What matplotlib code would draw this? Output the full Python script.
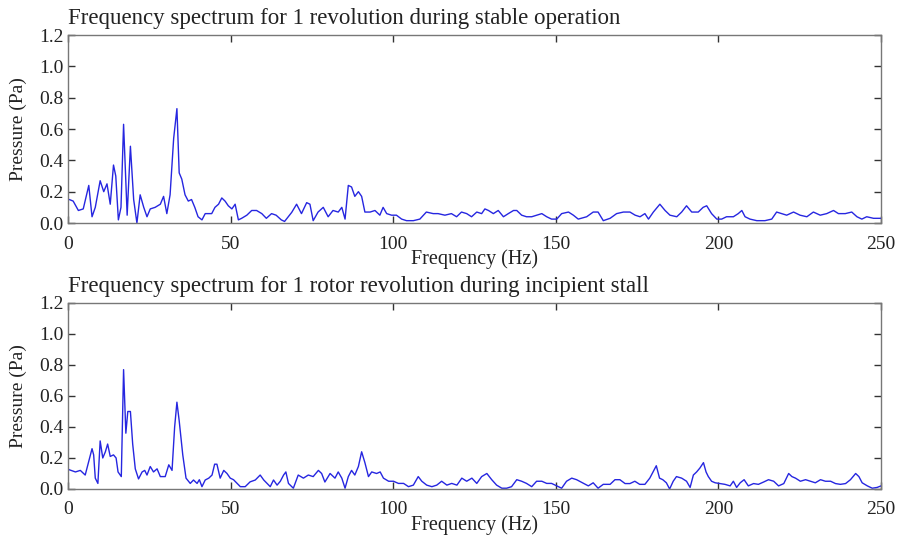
import matplotlib
matplotlib.use("Agg")
import matplotlib.pyplot as plt

# Stable operation spectrum (frequency in Hz, pressure amplitude in Pa)
stable_freq = [0, 0.4, 1.6, 3.2, 4.7, 6.4, 7.4, 8.4, 9.9, 11, 12, 13, 14, 14.7, 15.5, 16.3,
               17.1, 18.2, 19.2, 20.2, 21.2, 22.2, 23.3, 24.3, 25.3, 26.8, 28.4, 29.4, 30.4,
               31.4, 32.5, 33.5, 34.2, 35, 36, 37, 38, 39, 40, 41.2, 42.2, 44.2, 45.2, 46.3,
               47.3, 48.3, 49.3, 50.4, 51.4, 52.4, 53.4, 55, 56.5, 58, 59.6, 61, 62.6, 64,
               65.6, 66.6, 68.8, 70.3, 71.8, 73.4, 74.4, 75.4, 76.9, 78.5, 80, 81.5, 83.1,
               84.2, 85.2, 86.2, 87.2, 88.2, 89.3, 90.3, 91.3, 92.9, 94.4, 95.9, 96.9, 98,
               99.5, 101, 102.6, 104.1, 106.2, 108.2, 110.2, 112.3, 113.8, 115.9, 117.9,
               119.5, 121, 122.6, 124.1, 125.7, 127.2, 128.2, 129.3, 130.8, 132.3, 133.9,
               135.4, 137, 138, 139.5, 141, 142.6, 144.1, 145.7, 147.2, 148.7, 150.3, 151.8,
               153.9, 155.4, 156.9, 159.5, 161.5, 163, 164.6, 166.7, 168.7, 170.8, 172.8,
               174.4, 175.9, 177.4, 178.5, 180, 182, 183.6, 185.1, 187.2, 188.7, 190.2, 191.8,
               193.8, 195.3, 196.4, 197.9, 199.5, 201, 202.5, 204.6, 206.1, 207.2, 208.2,
               209.7, 211.8, 214.3, 216.4, 217.9, 219.5, 221, 223.1, 225.1, 227.2, 229.2,
               231.3, 233.3, 235.4, 236.9, 239, 241, 242.6, 244.1, 245.6, 247.7, 250]
stable_pa = [0.15, 0.15, 0.14, 0.08, 0.09, 0.24, 0.04, 0.10, 0.27, 0.20, 0.25, 0.12, 0.37, 0.30,
             0.02, 0.10, 0.63, 0.05, 0.49, 0.15, 0.00, 0.18, 0.10, 0.04, 0.09, 0.10, 0.12,
             0.17, 0.06, 0.18, 0.54, 0.73, 0.32, 0.28, 0.18, 0.14, 0.15, 0.10, 0.04, 0.02,
             0.06, 0.06, 0.10, 0.12, 0.16, 0.14, 0.11, 0.09, 0.12, 0.02, 0.03, 0.05, 0.08,
             0.08, 0.06, 0.03, 0.06, 0.05, 0.02, 0.01, 0.068, 0.12, 0.06, 0.13, 0.12, 0.015,
             0.07, 0.10, 0.04, 0.08, 0.07, 0.10, 0.025, 0.24, 0.23, 0.17, 0.20, 0.17, 0.07,
             0.07, 0.08, 0.05, 0.10, 0.06, 0.05, 0.05, 0.025, 0.015, 0.015, 0.025, 0.07,
             0.06, 0.06, 0.05, 0.06, 0.04, 0.07, 0.06, 0.04, 0.07, 0.06, 0.09, 0.08, 0.06,
             0.08, 0.04, 0.06, 0.08, 0.08, 0.05, 0.04, 0.04, 0.05, 0.06, 0.04, 0.025, 0.025,
             0.06, 0.07, 0.05, 0.025, 0.04, 0.07, 0.07, 0.015, 0.03, 0.06, 0.07, 0.07, 0.05,
             0.04, 0.06, 0.025, 0.07, 0.12, 0.08, 0.05, 0.04, 0.07, 0.11, 0.07, 0.07, 0.10,
             0.11, 0.06, 0.025, 0.025, 0.04, 0.04, 0.06, 0.08, 0.04, 0.025, 0.015, 0.015,
             0.025, 0.07, 0.06, 0.05, 0.07, 0.05, 0.04, 0.07, 0.05, 0.06, 0.08, 0.06, 0.06,
             0.07, 0.04, 0.025, 0.04, 0.03, 0.03]

# Incipient stall spectrum
stall_freq = [0, 0.4, 2.3, 3.8, 5.3, 6.4, 7.4, 7.9, 8.4, 9.2, 9.9, 10.7, 11.5, 12.2, 13, 14,
              14.8, 15.4, 16.4, 17.1, 17.8, 18.4, 19.2, 19.9, 20.7, 21.7, 22.8, 23.6, 24.3,
              25.3, 26.3, 27.4, 28.4, 29.9, 31, 32, 32.8, 33.5, 34.2, 35.3, 36.3, 37.6, 38.6,
              39.7, 40.4, 41.2, 42.2, 43.3, 44.3, 45.1, 45.8, 46.8, 47.9, 48.9, 49.9, 50.9,
              52, 53, 54.5, 56, 57.6, 59.1, 60.2, 61.2, 62.2, 63.2, 64.3, 65.3, 66.3, 67,
              67.8, 69.3, 70.8, 72.4, 73.9, 75.4, 77, 78, 79, 80.6, 82.1, 83.1, 84.2, 85.2,
              86.2, 87.2, 88.2, 89.3, 90.3, 91.3, 92.4, 93.4, 94.9, 96, 97, 98.6, 100.1,
              101.6, 103.2, 104.7, 106.2, 107.7, 108.8, 110.3, 111.9, 113.4, 114.9, 116.5,
              118, 119.6, 121.1, 122.6, 124.2, 125.7, 127.2, 128.8, 130.3, 131.8, 133.4,
              134.9, 136.4, 138, 139.5, 141, 142.6, 144.1, 145.7, 147.2, 148.7, 150.3, 151.8,
              153.3, 154.9, 156.4, 158.2, 160, 161.5, 163, 164.6, 166.7, 168.2, 169.7, 171.3,
              172.8, 174.3, 175.8, 177.4, 178.9, 179.9, 180.9, 181.9, 182.9, 184, 185, 186.1,
              187.1, 188.7, 190.2, 191.3, 192.3, 193.3, 194.3, 195.4, 196.2, 196.9, 197.9,
              199, 200.5, 202, 203.6, 204.6, 205.6, 206.7, 207.9, 209.2, 210.8, 212.3, 213.9,
              215.4, 217, 218.5, 220.1, 221.6, 222.6, 223.7, 225.2, 226.8, 228.3, 229.8,
              231.4, 232.9, 234.5, 236, 237.5, 239.1, 240.6, 242.2, 243.2, 244.2, 245.8,
              247.3, 248.8, 250]
stall_pa = [0.13, 0.124, 0.11, 0.12, 0.09, 0.18, 0.26, 0.22, 0.07, 0.036, 0.31, 0.20, 0.24,
            0.29, 0.21, 0.22, 0.20, 0.11, 0.08, 0.77, 0.36, 0.50, 0.50, 0.29, 0.13, 0.065,
            0.11, 0.12, 0.09, 0.145, 0.11, 0.13, 0.08, 0.08, 0.156, 0.12, 0.40, 0.56, 0.44,
            0.22, 0.07, 0.036, 0.058, 0.036, 0.06, 0.015, 0.058, 0.07, 0.09, 0.16, 0.16,
            0.07, 0.12, 0.10, 0.07, 0.06, 0.036, 0.015, 0.015, 0.046, 0.058, 0.09, 0.058,
            0.036, 0.015, 0.058, 0.025, 0.05, 0.09, 0.11, 0.036, 0.005, 0.09, 0.07, 0.09,
            0.08, 0.12, 0.10, 0.045, 0.10, 0.07, 0.11, 0.07, 0.005, 0.08, 0.12, 0.09, 0.145,
            0.24, 0.17, 0.08, 0.11, 0.10, 0.11, 0.07, 0.05, 0.05, 0.036, 0.036, 0.015,
            0.025, 0.08, 0.05, 0.025, 0.015, 0.025, 0.05, 0.025, 0.036, 0.025, 0.07, 0.05,
            0.07, 0.036, 0.08, 0.10, 0.06, 0.025, 0.005, 0.005, 0.015, 0.06, 0.05, 0.036,
            0.015, 0.05, 0.05, 0.036, 0.036, 0.02, 0.005, 0.05, 0.07, 0.06, 0.04, 0.02,
            0.04, 0.005, 0.03, 0.03, 0.06, 0.06, 0.035, 0.035, 0.05, 0.03, 0.03, 0.07, 0.11,
            0.15, 0.07, 0.06, 0.04, 0.0, 0.05, 0.08, 0.07, 0.05, 0.01, 0.09, 0.11, 0.135,
            0.17, 0.11, 0.08, 0.05, 0.04, 0.035, 0.03, 0.02, 0.05, 0.01, 0.04, 0.06, 0.02,
            0.035, 0.03, 0.045, 0.06, 0.05, 0.02, 0.035, 0.10, 0.08, 0.07, 0.05, 0.06, 0.05,
            0.04, 0.06, 0.05, 0.05, 0.035, 0.03, 0.035, 0.06, 0.10, 0.08, 0.04, 0.02, 0.005,
            0.01, 0.02]

titles = ["Frequency spectrum for 1 revolution during stable operation",
          "Frequency spectrum for 1 rotor revolution during incipient stall"]
x_ticks = [0, 50, 100, 150, 200, 250]
y_ticks = [0.0, 0.2, 0.4, 0.6, 0.8, 1.0, 1.2]

plt.rcParams["font.family"] = ["Liberation Serif", "DejaVu Serif"]
plt.rcParams["font.size"] = 14

fig = plt.figure(figsize=(8.99, 5.37), dpi=100)
ax_top = fig.add_axes([0.0756, 0.5847, 0.9044, 0.3501])
ax_bot = fig.add_axes([0.0756, 0.0894, 0.9044, 0.3464])

for ax, fx, py, title in [(ax_top, stable_freq, stable_pa, titles[0]),
                          (ax_bot, stall_freq, stall_pa, titles[1])]:
    ax.plot(fx, py, color="#2626e0", linewidth=1.0)
    ax.set_xlim(0, 250)
    ax.set_ylim(0, 1.2)
    ax.set_xticks(x_ticks)
    ax.set_yticks(y_ticks)
    ax.set_yticklabels([f"{v:.1f}" for v in y_ticks])
    ax.tick_params(direction="in", top=True, right=True, length=5, width=1,
                   colors="#333333", labelcolor="#222222", labelsize=14)
    ax.tick_params(axis="x", pad=9)
    ax.tick_params(axis="y", pad=3)
    for s in ax.spines.values():
        s.set_color("#777777")
        s.set_linewidth(1.0)
    ax.set_xlabel("Frequency (Hz)", fontsize=14.5, labelpad=-2, color="#222222")
    ax.set_ylabel("Pressure (Pa)", fontsize=14, labelpad=9, color="#222222")
    ax.set_title(title, loc="left", fontsize=16.5, pad=8, color="#222222")

fig.savefig("out.png", dpi=100)
